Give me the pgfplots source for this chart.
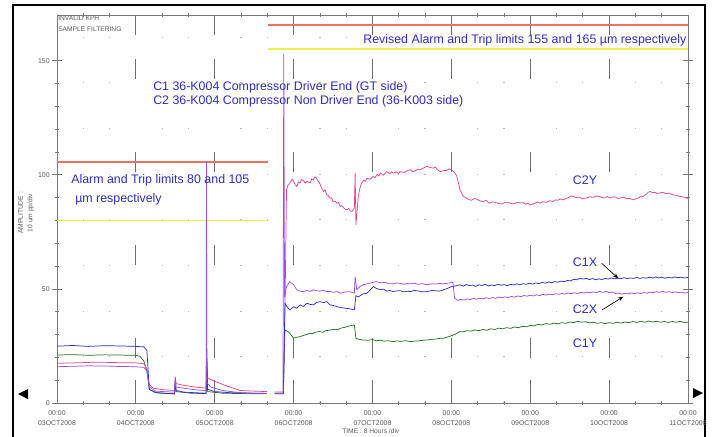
\documentclass[border=0pt]{standalone}
\usepackage{pgfplots}
\pgfplotsset{compat=1.18}
\usepackage{fontspec}
\setmainfont{Liberation Sans}
\usetikzlibrary{arrows.meta}
\definecolor{c1x}{RGB}{45,45,210}
\definecolor{c2x}{RGB}{155,80,220}
\definecolor{c1y}{RGB}{40,110,40}
\definecolor{c2y}{RGB}{228,70,140}
\definecolor{limred}{RGB}{235,115,95}
\definecolor{limyel}{RGB}{238,238,80}
\definecolor{annblue}{RGB}{45,45,190}
\definecolor{axgray}{RGB}{120,120,120}
\definecolor{gridgray}{RGB}{110,110,110}
\definecolor{dotgray}{RGB}{185,185,185}
\definecolor{tgray}{RGB}{90,90,90}
\tikzset{ann/.style={inner sep=0, text=annblue, font=\fontsize{9.3}{10.5}\selectfont}}
\begin{document}
\begin{tikzpicture}
\useasboundingbox (0,0) rectangle (535.5pt,-327pt);
\begin{scope}[x=0.75pt,y=-0.75pt]
 \draw[line width=1.1pt] (13,440) -- (13,5) -- (705,5) -- (705,440);
 \fill (18,394) -- (28,389) -- (28,399) -- cycle;
 \fill (703,393) -- (693,388) -- (693,398) -- cycle;
 \node[anchor=west, font=\fontsize{5}{6}\selectfont, text=tgray, inner sep=0] at (58,18) {INVALID KPH};
 \node[anchor=west, font=\fontsize{5}{6}\selectfont, text=tgray, inner sep=0] at (58,29) {SAMPLE FILTERING};
 \node[rotate=90, align=center, font=\fontsize{5}{7}\selectfont, text=tgray, inner sep=0] at (26,213) {AMPLITUDE :\\10 um pp/div};
 \node[anchor=west, font=\fontsize{5}{6}\selectfont, text=tgray, inner sep=0] at (342,431) {TIME : 8 Hours /div};
\end{scope}
\begin{axis}[
 at={(42.75pt,-302.25pt)}, anchor=south west,
 scale only axis, width=473.25pt, height=291pt,
 xmin=0, xmax=8, ymin=0, ymax=170,
 axis line style={draw=axgray, line width=0.7pt},
 tick align=center,
 tick style={draw=axgray, line width=0.5pt},
 major tick length=8pt, minor tick length=3pt,
 xtick={0,1,2,3,4,5,6,7,8},
 xticklabels={{00:00\\03OCT2008},{00:00\\04OCT2008},{00:00\\05OCT2008},{00:00\\06OCT2008},{00:00\\07OCT2008},{00:00\\08OCT2008},{00:00\\09OCT2008},{00:00\\10OCT2008},{00:00\\11OCT2008}},
 xticklabel style={align=center, font=\fontsize{5.2}{7}\selectfont, text=tgray, yshift=1.5pt},
 minor x tick num=2,
 major x tick style={draw=none},
 xmajorgrids, xminorgrids,
 major grid style={draw=gridgray, line width=0.7pt, dash pattern=on 17.25pt off 16.5pt on 15pt off 54.75pt on 15pt off 54.75pt on 15pt off 54.75pt on 15pt off 18pt on 15pt},
 minor grid style={draw=dotgray, line width=1pt, dash pattern=on 0.8pt off 33.44pt},
 ytick={0,50,100,150}, yticklabels={0,50,100,150},
 minor y tick num=4,
 yticklabel style={font=\fontsize{5.2}{6}\selectfont, text=tgray, xshift=2pt},
 unbounded coords=jump,
 clip=false,
]
% limit lines
\addplot[draw=limred, line width=1.35pt, forget plot] coordinates {(0,105.5) (2.67,105.5)};
\addplot[draw=limred, line width=1.35pt, forget plot] coordinates {(2.67,165.6) (8,165.6)};
\addplot[draw=limyel, line width=1.35pt, forget plot] coordinates {(0,80) (2.67,80)};
\addplot[draw=limyel, line width=1.35pt, forget plot] coordinates {(2.67,155) (8,155)};
% C1Y
\addplot[c1y, line width=0.55pt] coordinates {
(0,21) (0.2,21.2) (0.4,20.9) (0.6,21.1) (0.8,21) (1.0,20.9) (1.05,20.5) (1.10,18.5) (1.14,14) (1.17,6) (1.25,4.5) (1.40,4.1) (1.49,4) (1.50,9) (1.51,5) (1.7,4.3) (1.89,4.1) (1.90,14) (1.91,5) (2.1,4.3) (2.4,4.1) (2.66,4) (2.7,nan)
(2.76,4) (2.87,4) (2.89,32) (2.92,31.5) (2.95,30.6) (3.00,28.4) (3.04,28.8) (3.08,29.1) (3.14,29.8) (3.18,30.2) (3.21,30.6) (3.24,30.3) (3.27,31) (3.33,31.3) (3.37,31.0) (3.40,31.6) (3.46,32) (3.52,32.3) (3.56,32.1) (3.59,32.7) (3.65,33.2) (3.71,33.8) (3.77,34.2) (3.79,28.4) (3.83,27.9) (3.88,27.6) (3.95,27.5) (4.00,27.8) (4.05,27.3) (4.10,27.5) (4.15,27.1) (4.20,27.3) (4.26,26.9) (4.31,27.2) (4.36,27) (4.42,27.3) (4.48,26.9) (4.53,27.1) (4.58,27.2) (4.64,27.5) (4.69,27.6) (4.75,27.9) (4.80,28) (4.85,28.3) (4.90,28.4) (4.95,28.9) (5.0,29.5) (5.04,30.0) (5.07,30.6) (5.11,31.3)
(5.15,31.2) (5.20,31.7) (5.25,31.5) (5.30,32.0) (5.35,31.7) (5.40,32.2) (5.45,31.9) (5.50,32.5) (5.55,32.2) (5.60,32.8) (5.65,32.5) (5.70,33.0) (5.75,32.7) (5.80,33.3) (5.85,33.0) (5.90,33.6) (5.95,33.4) (6.00,34.0) (6.05,33.8) (6.10,34.5) (6.15,34.2) (6.20,34.8) (6.25,34.5) (6.30,35.0) (6.35,34.7) (6.40,35.2) (6.45,34.9) (6.50,35.5) (6.55,35.2) (6.60,35.8) (6.65,35.4) (6.70,35.6) (6.75,35.1) (6.80,35.4) (6.85,34.9) (6.90,35.2) (6.95,34.8) (7.00,35.2) (7.05,34.9) (7.10,35.4) (7.15,35.0) (7.20,35.5) (7.25,35.2) (7.30,35.7) (7.35,35.3) (7.40,35.8) (7.45,35.4) (7.50,35.9) (7.55,35.5) (7.60,35.8) (7.65,35.4) (7.70,35.7) (7.75,35.3) (7.80,35.7) (7.85,35.4) (7.90,35.8) (7.95,35.3) (8.00,35.4)};
% C2Y
\addplot[c2y, line width=0.55pt] coordinates {
(0,17.4) (0.25,17.6) (0.5,17.9) (0.75,17.7) (1.0,17.6) (1.10,17.2) (1.14,15) (1.17,8) (1.22,6.5) (1.35,5.8) (1.49,5.5) (1.50,11.5) (1.51,8.5) (1.60,7.8) (1.75,7) (1.89,6.5) (1.90,24) (1.91,11) (2.00,9.5) (2.15,7.5) (2.32,5.5) (2.50,5.2) (2.66,5) (2.7,nan)
(2.76,4.8) (2.87,4.8) (2.89,40) (2.91,93.4) (2.93,95.5) (2.95,96.3) (2.98,98) (3.00,97.1) (3.02,95.6) (3.04,94.9) (3.06,96.8) (3.08,96.3) (3.10,97.9) (3.12,97.5) (3.15,96.4) (3.17,97.1) (3.21,96.5) (3.23,98.2) (3.25,97.8) (3.27,99.1) (3.29,98.5) (3.31,97.2) (3.33,96.3) (3.35,94.6) (3.38,92.7) (3.40,93.3) (3.42,91.2) (3.44,90.9) (3.46,89.8) (3.48,89.9) (3.50,88.3) (3.53,88.4) (3.55,87.5) (3.57,87.8) (3.59,86.1) (3.61,86.5) (3.63,85.7) (3.65,85.0) (3.67,84.6) (3.70,85.2) (3.72,84.1) (3.74,83.9) (3.77,85.4) (3.78,100.7) (3.79,78.1) (3.82,90.5) (3.84,94.1) (3.86,96.3) (3.89,97.6) (3.91,97.1) (3.93,98.5) (3.97,98) (4.01,99.3) (4.03,98.7) (4.06,100.2) (4.08,99.5) (4.10,100.7) (4.14,99.8) (4.16,100.6) (4.18,101.4) (4.22,100.5) (4.24,101.3) (4.26,100.7) (4.30,101.2) (4.33,100.6) (4.35,101.4) (4.40,101) (4.44,101.8) (4.48,102.2) (4.51,101.4) (4.54,101.6) (4.57,102.4) (4.60,102.2) (4.65,103) (4.69,103.7) (4.73,103.2) (4.77,102.9) (4.80,103.4) (4.82,102.2) (4.86,101.4) (4.90,101.8) (4.94,101.9) (4.97,102.6) (5.00,102.2) (5.04,101) (5.07,99.3) (5.11,93.4) (5.15,90.5) (5.18,90.1) (5.20,89.5) (5.25,88.8) (5.29,89.6) (5.32,89.3) (5.36,88.6) (5.40,88.2) (5.44,88.8) (5.48,87.5) (5.52,88.1) (5.56,87.9) (5.60,87.4) (5.64,87.2) (5.68,87.9) (5.72,88) (5.76,87.3) (5.80,87.4) (5.84,88.0) (5.87,87.6) (5.91,87.8) (5.94,87.1) (5.97,87.5) (6.00,86.8) (6.03,87.2) (6.06,87.5) (6.09,88.1) (6.12,87.6) (6.16,88.2) (6.20,87.9) (6.25,88.6) (6.29,88.3) (6.32,89.0) (6.35,88.8) (6.38,89.4) (6.42,89) (6.45,89.6) (6.48,90) (6.51,90.7) (6.54,90.5) (6.58,90.0) (6.62,90.2) (6.66,89.6) (6.71,89.8) (6.76,90.4) (6.80,90.1) (6.84,90.7) (6.88,90.5) (6.92,89.8) (6.95,90) (6.98,90.5) (7.01,89.8) (7.04,90.2) (7.08,90.3) (7.11,89.6) (7.14,89.8) (7.18,90.2) (7.22,89.5) (7.26,89.7) (7.31,89) (7.34,89.5) (7.37,89.8) (7.40,90.6) (7.43,90.5) (7.46,91.2) (7.48,91.8) (7.50,92.4) (7.52,92.7) (7.55,92.1) (7.58,92.3) (7.61,91.8) (7.64,92) (7.68,92.3) (7.72,91.7) (7.76,91.9) (7.81,91.2) (7.85,91.0) (7.90,90.5) (7.94,90.3) (7.98,89.8) (8.00,89.6)};
% C1X
\addplot[c1x, line width=0.55pt] coordinates {
(0,24.9) (0.2,25.2) (0.4,24.8) (0.6,25.1) (0.8,25) (1.0,24.8) (1.10,24.6) (1.14,23) (1.17,6) (1.25,4.6) (1.40,4.2) (1.49,4) (1.50,10) (1.51,5.5) (1.60,4.8) (1.75,4.5) (1.89,4.3) (1.90,18) (1.91,6) (2.0,5) (2.2,4.5) (2.5,4.3) (2.66,4.2) (2.7,nan)
(2.76,4.3) (2.87,4.3) (2.89,43.7) (2.92,42) (2.95,40.8) (3.00,42.2) (3.04,41.5) (3.08,43) (3.12,42.3) (3.17,43.7) (3.21,43.2) (3.25,43) (3.29,44) (3.33,44.4) (3.38,44) (3.42,44.4) (3.46,43) (3.50,42.8) (3.55,42.2) (3.60,41.8) (3.67,41.5) (3.72,41.2) (3.77,40.8) (3.79,47) (3.82,46.5) (3.88,47.8) (3.93,48.1) (3.97,49.5) (4.01,51) (4.05,50.2) (4.10,49.6) (4.14,49.9) (4.18,49) (4.22,49.3) (4.26,48.8) (4.30,49.1) (4.35,49.2) (4.40,48.7) (4.44,49.0) (4.48,48.8) (4.53,49.3) (4.58,49.1) (4.63,48.7) (4.69,48.8) (4.75,49.3) (4.80,49.2) (4.85,49.0) (4.90,49.6) (4.95,50.2) (5.00,51) (5.05,51.3) (5.11,51.8)
(5.15,51.2) (5.19,51.9) (5.23,51.4) (5.27,51.7) (5.31,51.1) (5.35,51.8) (5.39,51.5) (5.43,52.0) (5.47,51.3) (5.51,51.7) (5.55,51.4) (5.59,52.1) (5.63,51.6) (5.67,51.9) (5.71,51.4) (5.75,52.0) (5.79,51.7) (5.83,52.2) (5.87,51.8) (5.91,52.3) (5.95,52.0) (5.99,52.5) (6.03,52.1) (6.07,52.6) (6.11,52.3) (6.15,52.8) (6.19,52.5) (6.23,53.0) (6.27,52.7) (6.31,53.2) (6.35,52.9) (6.39,53.4) (6.43,53.1) (6.47,53.7) (6.51,53.5) (6.55,54.2) (6.59,54.0) (6.63,54.7) (6.67,54.3) (6.71,54.6) (6.75,54.1) (6.79,54.5) (6.83,54.0) (6.87,54.4) (6.91,54.1) (6.95,54.6) (6.99,54.3) (7.03,54.8) (7.07,54.4) (7.11,54.7) (7.15,54.5) (7.19,54.9) (7.23,54.5) (7.27,54.8) (7.31,54.6) (7.35,55.0) (7.39,54.6) (7.43,54.9) (7.47,54.7) (7.51,55.1) (7.55,54.8) (7.59,55.2) (7.63,54.8) (7.67,55.1) (7.71,54.7) (7.75,55.0) (7.79,54.8) (7.83,55.2) (7.87,54.9) (7.91,55.1) (7.95,54.8) (8.0,55.0)};
% C2X
\addplot[c2x, line width=0.55pt] coordinates {
(0,15.9) (0.2,16.1) (0.4,16.3) (0.6,16.2) (0.8,16) (1.0,15.9) (1.10,15.6) (1.14,14) (1.17,7) (1.25,5.2) (1.40,4.9) (1.49,4.8) (1.50,11) (1.51,7) (1.60,6.5) (1.8,5.6) (1.89,5.5) (1.895,106) (1.90,9) (1.95,7) (2.1,5.5) (2.3,4.6) (2.5,4.3) (2.66,4.2) (2.7,nan)
(2.76,4) (2.865,4) (2.875,153) (2.885,47) (2.91,51) (2.95,53.2) (3.00,51.8) (3.04,49.6) (3.08,49) (3.12,48.8) (3.17,49.3) (3.21,48.9) (3.25,49.6) (3.29,49.2) (3.33,49) (3.38,49.4) (3.42,48.8) (3.46,48.9) (3.50,48.5) (3.55,48.8) (3.59,48.1) (3.65,48.6) (3.71,48.8) (3.77,48.1) (3.78,55.4) (3.80,49.6) (3.84,51) (3.88,51.8) (3.93,52.2) (3.97,52.5) (4.01,52.9) (4.05,53.2) (4.09,52.8) (4.12,52.6) (4.16,52.9) (4.20,52.3) (4.26,52.2) (4.30,52.6) (4.35,52.4) (4.40,52.0) (4.44,52.4) (4.48,52.2) (4.53,52.5) (4.58,52) (4.63,52.3) (4.69,51.8) (4.74,52.2) (4.80,52.1) (4.85,52.4) (4.90,52.2) (4.97,52.6) (5.02,52.8) (5.04,46)
(5.08,45.0) (5.12,45.4) (5.16,45.1) (5.20,45.6) (5.24,45.3) (5.28,45.8) (5.32,45.5) (5.36,45.9) (5.40,45.6) (5.44,46.1) (5.48,45.8) (5.52,46.2) (5.56,45.9) (5.60,46.4) (5.64,46.1) (5.68,46.5) (5.72,46.2) (5.76,46.7) (5.80,46.4) (5.84,46.9) (5.88,46.6) (5.92,47.1) (5.96,46.8) (6.00,47.2) (6.04,46.9) (6.08,47.4) (6.12,47.1) (6.16,47.6) (6.20,47.3) (6.24,47.7) (6.28,47.4) (6.32,47.9) (6.36,47.6) (6.40,48.0) (6.44,47.7) (6.48,48.2) (6.52,47.9) (6.56,48.3) (6.60,48.0) (6.64,48.5) (6.68,48.2) (6.72,48.6) (6.76,48.3) (6.80,48.7) (6.84,48.4) (6.88,48.9) (6.92,48.5) (6.96,48.9) (7.00,48.4) (7.04,48.6) (7.08,48.0) (7.12,48.1) (7.16,47.7) (7.20,48.1) (7.24,47.8) (7.28,48.2) (7.32,47.9) (7.36,48.3) (7.40,48.0) (7.44,48.4) (7.48,48.1) (7.52,48.6) (7.56,48.3) (7.60,48.8) (7.64,48.5) (7.68,48.9) (7.72,48.5) (7.76,48.8) (7.80,48.4) (7.84,48.7) (7.88,48.3) (7.92,48.6) (7.96,48.2) (8.00,48.4)};
% annotations
\node[ann, anchor=west] at (axis cs:3.88,159) {Revised Alarm and Trip limits 155 and 165 µm respectively};
\node[ann, anchor=west] at (axis cs:1.217,138.4) {C1 36-K004 Compressor Driver End (GT side)};
\node[ann, anchor=west] at (axis cs:1.217,132.3) {C2 36-K004 Compressor Non Driver End (36-K003 side)};
\node[ann, anchor=west] at (axis cs:0.1775,97.7) {Alarm and Trip limits 80 and 105};
\node[ann, anchor=west] at (axis cs:0.228,89.4) {µm respectively};
\node[ann] at (axis cs:6.694,97.7) {C2Y};
\node[ann] at (axis cs:6.694,61.8) {C1X};
\node[ann] at (axis cs:6.694,41.2) {C2X};
\node[ann] at (axis cs:6.694,26.3) {C1Y};
\draw[-{Stealth[length=4pt,width=3pt]}, black, line width=0.5pt] (axis cs:6.906,61.2) -- (axis cs:7.116,54.6);
\draw[-{Stealth[length=4pt,width=3pt]}, black, line width=0.5pt] (axis cs:6.906,40.7) -- (axis cs:7.18,46.6);
\end{axis}
\end{tikzpicture}
\end{document}
